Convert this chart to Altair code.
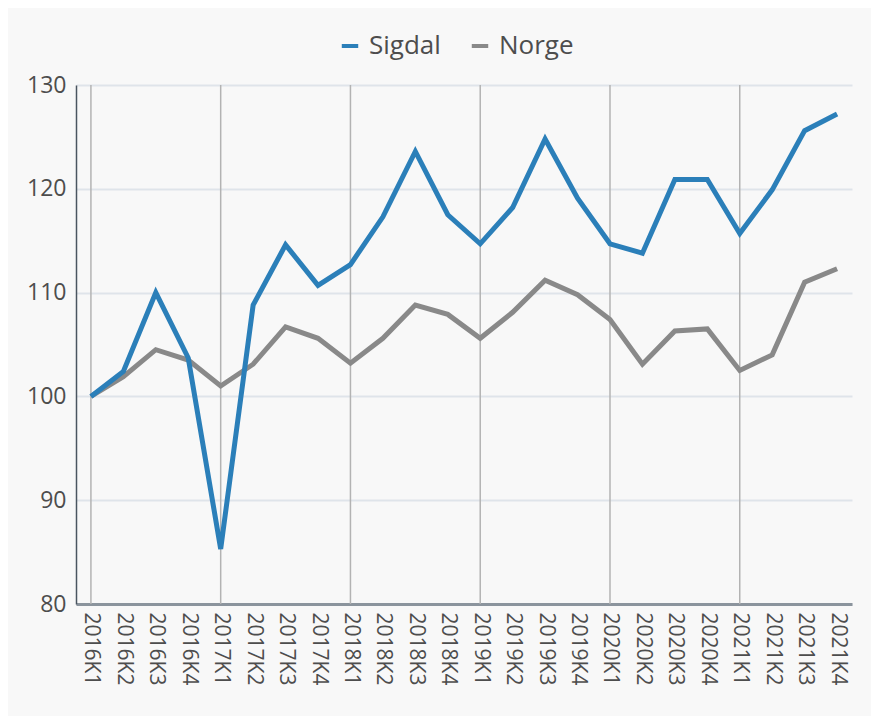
import altair as alt
import pandas as pd

quarters = ["2016K1", "2016K2", "2016K3", "2016K4",
            "2017K1", "2017K2", "2017K3", "2017K4",
            "2018K1", "2018K2", "2018K3", "2018K4",
            "2019K1", "2019K2", "2019K3", "2019K4",
            "2020K1", "2020K2", "2020K3", "2020K4",
            "2021K1", "2021K2", "2021K3", "2021K4"]
sigdal = [100, 102.4, 110.0, 103.7, 85.3, 108.8, 114.6, 110.7,
          112.7, 117.3, 123.6, 117.5, 114.7, 118.2, 124.8, 119.1,
          114.7, 113.8, 120.9, 120.9, 115.7, 119.9, 125.6, 127.2]
norge = [100, 101.9, 104.5, 103.5, 101.0, 103.1, 106.7, 105.6,
         103.2, 105.6, 108.8, 107.9, 105.6, 108.1, 111.2, 109.8,
         107.4, 103.1, 106.3, 106.5, 102.5, 104.0, 111.0, 112.3]
year_starts = ["2016K1", "2017K1", "2018K1", "2019K1", "2020K1", "2021K1"]
series_names = ["Sigdal", "Norge"]
series_colors = ["#2b7fb9", "#898989"]
y_ticks = [80, 90, 100, 110, 120, 130]

df_s = pd.DataFrame({"kvartal": quarters, "verdi": sigdal, "serie": "Sigdal"})
df_n = pd.DataFrame({"kvartal": quarters, "verdi": norge, "serie": "Norge"})
df_rules = pd.DataFrame({"kvartal": year_starts})

FONT = "Open Sans"
TXT = "#4d4d4d"

x_enc = alt.X("kvartal:N", scale=alt.Scale(domain=quarters, type="point", padding=0.46),
              axis=alt.Axis(title=None, labelAngle=90, labelAlign="left", labelBaseline="middle",
                            labelFontSize=21, labelFont=FONT,
                            labelColor=TXT, ticks=False, labelPadding=8, grid=False,
                            domainColor="#8b949d", domainWidth=3, labelOverlap=False))
y_enc = alt.Y("verdi:Q", scale=alt.Scale(domain=[80, 130], nice=False, zero=False),
              axis=alt.Axis(title=None, values=y_ticks, labelFontSize=23, labelFont=FONT,
                            labelColor=TXT, ticks=False, labelPadding=10, grid=True,
                            gridColor="#dfe4ea", gridWidth=2,
                            domainColor="#4a5560", domainWidth=1.5))
color_enc = alt.Color("serie:N",
                      scale=alt.Scale(domain=series_names, range=series_colors),
                      legend=alt.Legend(title=None, orient="none", direction="horizontal",
                                        legendX=261, legendY=-52,
                                        symbolType="stroke", symbolSize=270,
                                        symbolStrokeWidth=4, labelFontSize=26,
                                        labelFont=FONT, labelColor=TXT, labelOffset=6,
                                        columnPadding=22, padding=0, labelLimit=300))

rules = alt.Chart(df_rules).mark_rule(color="#b3b3b3", strokeWidth=1.5).encode(
    x=alt.X("kvartal:N", scale=alt.Scale(domain=quarters, type="point", padding=0.46))
)

line_n = alt.Chart(df_n).mark_line(strokeWidth=5, strokeJoin="miter").encode(
    x=x_enc, y=y_enc, color=color_enc)
line_s = alt.Chart(df_s).mark_line(strokeWidth=5, strokeJoin="miter").encode(
    x=x_enc, y=y_enc, color=color_enc)

chart = alt.layer(rules, line_n, line_s).properties(
    width=776, height=519,
    background="#f8f8f8",
    autosize=alt.AutoSizeParams(type="none"),
    padding={"left": 68, "top": 77, "right": 19, "bottom": 112},
).configure_view(stroke=None)

chart.save("out.html", embed_options={"renderer": "svg", "actions": False})
